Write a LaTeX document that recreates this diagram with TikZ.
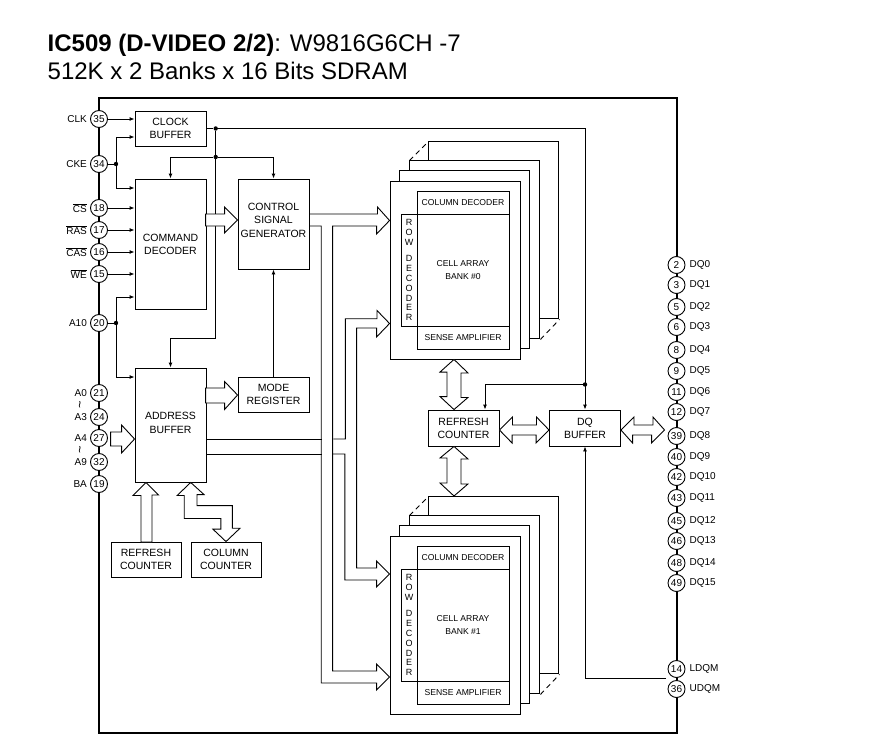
\documentclass[tikz,border=0pt]{standalone}
\usepackage{fontspec}
\setmainfont{Liberation Sans}
\usetikzlibrary{arrows.meta,calc}
\tikzset{
  wire/.style={line width=0.9pt},
  sig/.style={wire, -{Latex[length=5pt,width=4pt]}},
  busline/.style={wire, fill=white},
  openbus/.style={wire},
  chipbox/.style={draw, line width=1.6pt, inner sep=0pt},
  blockbox/.style={draw, wire, fill=white, inner sep=0pt, align=center, font=\fontsize{10.5}{13}\selectfont},
  blocktext/.style={inner sep=0pt, align=center, font=\fontsize{10.5}{13.5}\selectfont},
  cellbox/.style={draw, wire, fill=white, inner sep=0pt, align=center, font=\fontsize{8.6}{13.5}\selectfont},
  rowbox/.style={draw, wire, fill=white, inner sep=0pt, align=center, font=\fontsize{9}{9.8}\selectfont},
  pinbox/.style={circle, draw, wire, fill=white, inner sep=0pt, minimum size=17pt, font=\fontsize{10}{10}\selectfont},
  pinleft/.style={anchor=east, inner sep=3pt, font=\fontsize{10}{10}\selectfont},
  pinright/.style={anchor=west, inner sep=4pt, font=\fontsize{10}{10}\selectfont},
  squiggle/.style={rotate=90, inner sep=0pt, font=\fontsize{13}{13}\selectfont},
  jointdot/.style={circle, fill=black, inner sep=0pt, minimum size=4.4pt},
  titletext/.style={anchor=base west, inner sep=0pt, font=\fontsize{24}{24}\selectfont},
}
\begin{document}
\begin{tikzpicture}[x=1pt,y=-1pt]
    \useasboundingbox (0,0) rectangle (880,741);
    \node[titletext] (title1) at (47.5,52) {\textbf{IC509 (D-VIDEO 2/2)}: W9816G6CH -7};
    \node[titletext] (title2) at (47.5,80) {512K x 2 Banks x 16 Bits SDRAM};
    \node[chipbox, minimum width=578pt, minimum height=635pt] (chip) at (388,415.5) {};

    % left pins
    \node[pinbox] (clkpin) at (99,119) {35};
    \node[pinbox] (ckepin) at (99,164) {34};
    \node[pinbox] (cspin) at (99,208) {18};
    \node[pinbox] (raspin) at (99,230) {17};
    \node[pinbox] (caspin) at (99,252) {16};
    \node[pinbox] (wepin) at (99,274) {15};
    \node[pinbox] (atenpin) at (99,323) {20};
    \node[pinbox] (azeropin) at (99,393) {21};
    \node[pinbox] (athreepin) at (99,417) {24};
    \node[pinbox] (afourpin) at (99,438) {27};
    \node[pinbox] (aninepin) at (99,462) {32};
    \node[pinbox] (bapin) at (99,484) {19};
    \node[pinleft] (clklabel) at (clkpin.west) {CLK};
    \node[pinleft] (ckelabel) at (ckepin.west) {CKE};
    \node[pinleft] (cslabel) at (cspin.west) {$\overline{\mbox{CS}}$};
    \node[pinleft] (raslabel) at (raspin.west) {$\overline{\mbox{RAS}}$};
    \node[pinleft] (caslabel) at (caspin.west) {$\overline{\mbox{CAS}}$};
    \node[pinleft] (welabel) at (wepin.west) {$\overline{\mbox{WE}}$};
    \node[pinleft] (atenlabel) at (atenpin.west) {A10};
    \node[pinleft] (azerolabel) at (azeropin.west) {A0};
    \node[pinleft] (athreelabel) at (athreepin.west) {A3};
    \node[pinleft] (afourlabel) at (afourpin.west) {A4};
    \node[pinleft] (aninelabel) at (aninepin.west) {A9};
    \node[pinleft] (balabel) at (bapin.west) {BA};
    \node[squiggle] (tildeone) at (81.5,405) {\textasciitilde};
    \node[squiggle] (tildetwo) at (81.5,450) {\textasciitilde};

    % right pins
    \node[pinbox] (dqzero) at (676.5,265) {2};
    \node[pinbox] (dqone) at (676.5,285) {3};
    \node[pinbox] (dqtwo) at (676.5,307) {5};
    \node[pinbox] (dqthree) at (676.5,327) {6};
    \node[pinbox] (dqfour) at (676.5,350) {8};
    \node[pinbox] (dqfive) at (676.5,371) {9};
    \node[pinbox] (dqsix) at (676.5,392) {11};
    \node[pinbox] (dqseven) at (676.5,412) {12};
    \node[pinbox] (dqeight) at (676.5,436) {39};
    \node[pinbox] (dqnine) at (676.5,457) {40};
    \node[pinbox] (dqten) at (676.5,477) {42};
    \node[pinbox] (dqeleven) at (676.5,498) {43};
    \node[pinbox] (dqtwelve) at (676.5,521) {45};
    \node[pinbox] (dqthirteen) at (676.5,541) {46};
    \node[pinbox] (dqfourteen) at (676.5,563) {48};
    \node[pinbox] (dqfifteen) at (676.5,583) {49};
    \node[pinbox] (ldqmpin) at (676.5,669) {14};
    \node[pinbox] (udqmpin) at (676.5,689) {36};
    \node[pinright] (dqzerolabel) at (dqzero.east) {DQ0};
    \node[pinright] (dqonelabel) at (dqone.east) {DQ1};
    \node[pinright] (dqtwolabel) at (dqtwo.east) {DQ2};
    \node[pinright] (dqthreelabel) at (dqthree.east) {DQ3};
    \node[pinright] (dqfourlabel) at (dqfour.east) {DQ4};
    \node[pinright] (dqfivelabel) at (dqfive.east) {DQ5};
    \node[pinright] (dqsixlabel) at (dqsix.east) {DQ6};
    \node[pinright] (dqsevenlabel) at (dqseven.east) {DQ7};
    \node[pinright] (dqeightlabel) at (dqeight.east) {DQ8};
    \node[pinright] (dqninelabel) at (dqnine.east) {DQ9};
    \node[pinright] (dqtenlabel) at (dqten.east) {DQ10};
    \node[pinright] (dqelevenlabel) at (dqeleven.east) {DQ11};
    \node[pinright] (dqtwelvelabel) at (dqtwelve.east) {DQ12};
    \node[pinright] (dqthirteenlabel) at (dqthirteen.east) {DQ13};
    \node[pinright] (dqfourteenlabel) at (dqfourteen.east) {DQ14};
    \node[pinright] (dqfifteenlabel) at (dqfifteen.east) {DQ15};
    \node[pinright] (ldqmlabel) at (ldqmpin.east) {LDQM};
    \node[pinright] (udqmlabel) at (udqmpin.east) {UDQM};

    % blocks
    \node[blockbox, minimum width=71pt, minimum height=35pt] (clockbuf) at (170.5,128.5) {CLOCK\\BUFFER};
    \node[blockbox, minimum width=71pt, minimum height=130pt] (cmddec) at (170.5,244) {COMMAND\\DECODER};
    \node[blockbox, minimum width=71pt, minimum height=90pt] (controlgen) at (273.5,224) {};
    \node[blocktext] (controltext) at (controlgen |- 0,220) {CONTROL\\SIGNAL\\GENERATOR};
    \node[blockbox, minimum width=71pt, minimum height=114pt] (addrbuf) at (170.5,425) {};
    \node[blocktext] (addrtext) at (addrbuf |- 0,423) {ADDRESS\\BUFFER};
    \node[blockbox, minimum width=71pt, minimum height=35pt] (modereg) at (273.5,394.5) {MODE\\REGISTER};
    \node[blockbox, minimum width=70pt, minimum height=35pt] (refreshleft) at (146,559.5) {REFRESH\\COUNTER};
    \node[blockbox, minimum width=70pt, minimum height=35pt] (colcount) at (226,559.5) {COLUMN\\COUNTER};
    \node[blockbox, minimum width=71pt, minimum height=36pt] (refreshmid) at (463.5,428) {REFRESH\\COUNTER};
    \node[blockbox, minimum width=71pt, minimum height=36pt] (dqbuf) at (585,428) {DQ\\BUFFER};

    % bank 0
    \node[blockbox, minimum width=130pt, minimum height=178pt] (bankzero) at (455,270) {};
    \draw[wire] ([xshift=10pt]bankzero.north west) -- ++(0,-10) -- ++(130,0) -- ++(0,178) -- ++(-10,0);
    \draw[wire] ([xshift=20pt,yshift=10pt]bankzero.north west) -- ++(0,-10) -- ++(130,0) -- ++(0,178) -- ++(-10,0);
    \draw[wire] ([xshift=39pt,yshift=20pt]bankzero.north west) -- ++(0,-19) -- ++(130,0) -- ++(0,177) -- ++(-19,0);
    \draw[wire, dashed, dash pattern=on 5pt off 4pt] ([xshift=20pt,yshift=20pt]bankzero.north west) -- ++(19,-19);
    \draw[wire, dashed, dash pattern=on 5pt off 4pt] ([xshift=20pt,yshift=20pt]bankzero.south east) -- ++(19,-20);
    \node[cellbox, minimum width=92pt, minimum height=23pt] (coldeczero) at (463,202.5) {COLUMN DECODER};
    \node[cellbox, minimum width=92pt, minimum height=112pt] (cellzero) at (463,270) {CELL ARRAY\\BANK \#0};
    \node[cellbox, minimum width=92pt, minimum height=23pt] (sensezero) at (463,337.5) {SENSE AMPLIFIER};
    \node[rowbox, minimum width=16pt, minimum height=112pt] (rowdeczero) at (409,270) {R\\O\\W\\[7pt]D\\E\\C\\O\\D\\E\\R};

    % bank 1
    \node[blockbox, minimum width=130pt, minimum height=178pt] (bankone) at (455,625) {};
    \draw[wire] ([xshift=10pt]bankone.north west) -- ++(0,-10) -- ++(130,0) -- ++(0,178) -- ++(-10,0);
    \draw[wire] ([xshift=20pt,yshift=10pt]bankone.north west) -- ++(0,-10) -- ++(130,0) -- ++(0,178) -- ++(-10,0);
    \draw[wire] ([xshift=39pt,yshift=20pt]bankone.north west) -- ++(0,-19) -- ++(130,0) -- ++(0,177) -- ++(-19,0);
    \draw[wire, dashed, dash pattern=on 5pt off 4pt] ([xshift=20pt,yshift=20pt]bankone.north west) -- ++(19,-19);
    \draw[wire, dashed, dash pattern=on 5pt off 4pt] ([xshift=20pt,yshift=20pt]bankone.south east) -- ++(19,-20);
    \node[cellbox, minimum width=92pt, minimum height=23pt] (coldecone) at (463,557.5) {COLUMN DECODER};
    \node[cellbox, minimum width=92pt, minimum height=112pt] (cellone) at (463,625) {CELL ARRAY\\BANK \#1};
    \node[cellbox, minimum width=92pt, minimum height=23pt] (senseone) at (463,692.5) {SENSE AMPLIFIER};
    \node[rowbox, minimum width=16pt, minimum height=112pt] (rowdecone) at (409,625) {R\\O\\W\\[7pt]D\\E\\C\\O\\D\\E\\R};

    % joints
    \node[jointdot] (clkdot) at (215.7,128.5) {};
    \node[jointdot] (ctldot) at (215.7,157) {};
    \node[jointdot] (refdot) at (585,384.5) {};
    \node[jointdot] (ckedot) at (116,164) {};
    \node[jointdot] (atendot) at (116,323) {};
    \coordinate (ldqmend) at (666,678);

    % thin signals
    \draw[sig] (clkpin.east) -- (clkpin -| clockbuf.west);
    \draw[wire] (ckepin.east) -- (ckedot);
    \draw[sig] (ckedot) |- (clockbuf.west |- 0,137);
    \draw[sig] (ckedot) |- (cmddec.west |- 0,188);
    \draw[sig] (cspin.east) -- (cspin -| cmddec.west);
    \draw[sig] (raspin.east) -- (raspin -| cmddec.west);
    \draw[sig] (caspin.east) -- (caspin -| cmddec.west);
    \draw[sig] (wepin.east) -- (wepin -| cmddec.west);
    \draw[wire] (atenpin.east) -- (atendot);
    \draw[sig] (atendot) |- (cmddec.west |- 0,297);
    \draw[sig] (atendot) |- (addrbuf.west |- 0,377);
    \draw[wire] (clockbuf.east |- clkdot) -- (clkdot);
    \draw[sig] (clkdot) -| (dqbuf.north);
    \draw[sig] (clkdot) -- (clkdot |- 0,338) -| (addrbuf.north);
    \draw[sig] (ctldot) -| (cmddec.north);
    \draw[sig] (ctldot) -| (controlgen.north);
    \draw[sig] (refdot) -| (refreshmid.north -| 485,0);
    \draw[sig] (modereg.north) -- (controlgen.south);
    \draw[sig] (ldqmend) -| (dqbuf.south);

    % hollow buses
    \coordinate (cmdtip) at (controlgen.west |- 0,220);
    \draw[busline] (cmdtip) -- ++(-13,-13) -- ++(0,7) -- ++(-19,0) -- ++(0,12) -- ++(19,0) -- ++(0,7) -- cycle;
    \coordinate (modetip) at (modereg.west |- 0,395);
    \draw[busline] (modetip) -- ++(-13,-13.5) -- ++(0,6.5) -- ++(-19,0) -- ++(0,15) -- ++(19,0) -- ++(0,6.5) -- cycle;
    \coordinate (afourtip) at (addrbuf.west |- 0,439);
    \draw[busline] (afourtip) -- ++(-13,-14) -- ++(0,7) -- ++(-11,0) -- ++(0,14) -- ++(11,0) -- ++(0,7) -- cycle;
    \coordinate (refleftip) at (addrbuf.south -| refreshleft);
    \draw[busline] (refleftip) -- ++(-13,13) -- ++(8,0) -- (141,542) -- (152,542) -- (152,495) -- ++(6.5,0) -- cycle;
    \coordinate (coltip) at (addrbuf.south -| 190.7,0);
    \draw[busline] (coltip) -- ++(-13.5,13) -- ++(7,0) -- ++(0,23) -- ++(36.7,0) -- ++(0,10.7) -- ++(-8,0) -- (colcount.north) -- ++(14,-13.3) -- ++(-7.7,0) -- ++(0,-22.7) -- ++(-35.3,0) -- ++(0,-11) -- ++(7,0) -- cycle;
    % control bus to both banks
    \coordinate (ctltipzero) at (bankzero.west |- 0,220.5);
    \coordinate (ctltipone) at (bankone.west |- 0,677);
    \draw[openbus] (controlgen.east |- 0,214) -- ++(68,0) -- ++(0,-7) -- (ctltipzero) -- ++(-13,13.5) -- ++(0,-8) -- ++(-44,0) -- ++(0,445) -- ++(44,0) -- ++(0,-7) -- (ctltipone) -- ++(-13,13) -- ++(0,-7) -- ++(-55.3,0) -- ++(0,-457) -- (controlgen.east |- 0,226);
    % address bus to both banks
    \coordinate (adrtipzero) at (bankzero.west |- 0,323.5);
    \coordinate (adrtipone) at (bankone.west |- 0,574);
    \draw[openbus] (addrbuf.east |- 0,439) -- (321.7,439);
    \draw[openbus] (addrbuf.east |- 0,454) -- (321.7,454);
    \draw[openbus] (333.3,439) -- ++(12,0) -- ++(0,-120.3) -- ++(31.7,0) -- ++(0,-8.2) -- (adrtipzero) -- ++(-13,13.5) -- ++(0,-9) -- ++(-20,0) -- ++(0,240) -- ++(20,0) -- ++(0,-7) -- (adrtipone) -- ++(-13,13) -- ++(0,-7) -- ++(-31.7,0) -- ++(0,-126) -- ++(-12,0);
    % double arrows in the middle
    \draw[busline] (bankzero.south -| 454,0) -- ++(14,13.5) -- ++(-7,0) -- ++(0,24.5) -- ++(7,0) -- (refreshmid.north -| 454,0) -- ++(-14,-13) -- ++(7,0) -- ++(0,-24.5) -- ++(-7,0) -- cycle;
    \draw[busline] (refreshmid.south -| 454,0) -- ++(14,12.5) -- ++(-7,0) -- ++(0,25) -- ++(7,0) -- (454,496) -- ++(-14,-13) -- ++(7,0) -- ++(0,-25) -- ++(-7,0) -- cycle;
    \draw[busline] (refreshmid.east) ++(0,2) -- ++(13,-13) -- ++(0,8) -- ++(24,0) -- ++(0,-8) -- ($(dqbuf.west)+(0,2)$) -- ++(-13,13) -- ++(0,-8) -- ++(-24,0) -- ++(0,8) -- cycle;
    \draw[busline] (dqbuf.east) ++(0,2) -- ++(13,-13) -- ++(0,8) -- ++(19,0) -- ++(0,-8) -- ($(dqeight.west)+(-3,-6)$) -- ++(-13,13) -- ++(0,-8) -- ++(-19,0) -- ++(0,8) -- cycle;
\end{tikzpicture}
\end{document}
